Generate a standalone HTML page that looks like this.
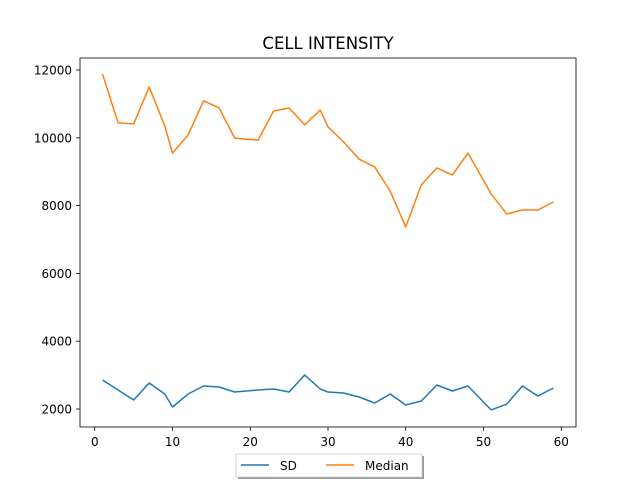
<!DOCTYPE html>
<html><head><meta charset="utf-8"><style>
body{margin:0;background:#fff;}
svg{display:block;font-family:"DejaVu Sans","Liberation Sans",sans-serif;}
</style></head><body>
<svg id="chart" width="640" height="480">
<rect width="640" height="480" fill="#fff"/>
<text x="328" y="49" text-anchor="middle" font-size="16.5">CELL INTENSITY</text>
<g id="plot"></g>
</svg>
<script>
const xs=[1,3,5,7,9,10,12,14,16,18,21,23,25,27,29,30,32,34,36,38,40,42,44,46,48,51,53,55,57,59];
const median=[11880,10440,10410,11500,10350,9550,10080,11090,10880,9990,9930,10790,10880,10380,10820,10320,9880,9370,9140,8430,7370,8610,9110,8900,9550,8340,7750,7870,7870,8110];
const sd=[2855,2560,2265,2767,2442,2059,2442,2678,2649,2501,2560,2590,2501,3003,2590,2501,2472,2354,2177,2442,2118,2236,2708,2531,2678,1971,2147,2678,2383,2619];
const xTicks=[0,10,20,30,40,50,60];
const yTicks=[2000,4000,6000,8000,10000,12000];
const L=80,R=576,T=58,B=427;
const xmin=-1.9,xmax=61.9;
const X=v=>L+(v-xmin)/(xmax-xmin)*(R-L);
const Y=v=>409-(v-2000)*0.0339;
const NS='http://www.w3.org/2000/svg';
const g=document.getElementById('plot');
function mk(tag,attrs,parent){const e=document.createElementNS(NS,tag);for(const k in attrs)e.setAttribute(k,attrs[k]);(parent||g).appendChild(e);return e;}
xTicks.forEach(t=>{
 const l=mk('line',{x1:X(t),x2:X(t),y1:B,y2:B+4,stroke:'#000','stroke-width':0.8});
 
 
 const tx=mk('text',{x:X(t),y:B+19,'text-anchor':'middle','font-size':12});tx.textContent=t;
 
 
});
yTicks.forEach(t=>{
 const l=mk('line',{x1:L-4,x2:L,y1:Y(t),y2:Y(t),stroke:'#000','stroke-width':0.8});
 
 
 const tx=mk('text',{x:L-8,y:Y(t)+4.5,'text-anchor':'end','font-size':12});tx.textContent=t;
 
 
});
function line(vals,color,name){
 const p=mk('polyline',{points:xs.map((x,i)=>X(x)+','+Y(vals[i])).join(' '),fill:'none',stroke:color,'stroke-width':1.5,'stroke-linejoin':'round'});
 
 
}
line(sd,'#1f77b4','sd-line');
line(median,'#ff7f0e','median-line');
const fr=mk('rect',{x:L,y:T,width:R-L,height:B-T,fill:'none',stroke:'#000','stroke-width':0.8});


const lg=mk('g',{});


mk('rect',{x:238,y:456,width:186,height:23,fill:'#555',opacity:0.6},lg);
mk('rect',{x:236,y:454,width:186,height:23,fill:'#fff',stroke:'#ccc','stroke-width':0.8},lg);
const e1=mk('g',{},lg);


mk('line',{x1:241,x2:269,y1:465,y2:465,stroke:'#1f77b4','stroke-width':1.5},e1);
mk('text',{x:280,y:470,'font-size':12},e1).textContent='SD';
const e2=mk('g',{},lg);


mk('line',{x1:326,x2:354,y1:465,y2:465,stroke:'#ff7f0e','stroke-width':1.5},e2);
mk('text',{x:365,y:470,'font-size':12},e2).textContent='Median';
</script>
</body></html>
